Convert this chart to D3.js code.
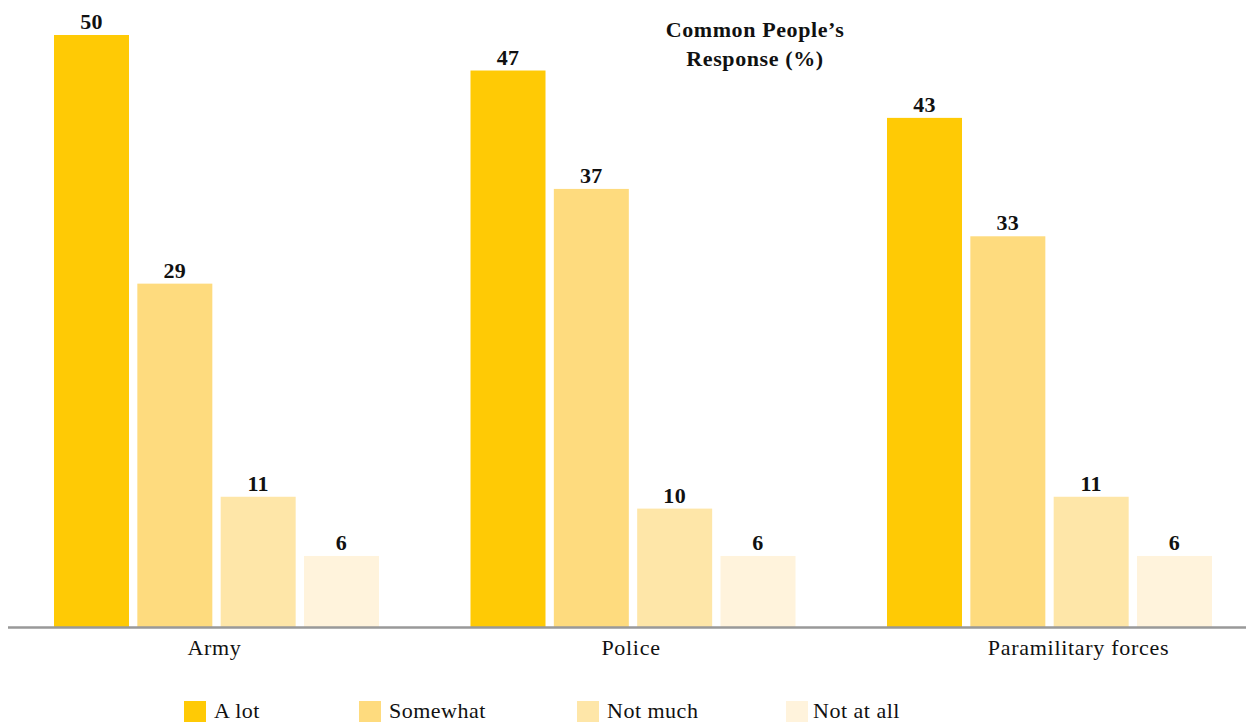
<!DOCTYPE html>
<html>
<head>
<meta charset="utf-8">
<script src="https://cdn.jsdelivr.net/npm/d3@7"></script>
<style>
  html, body { margin: 0; padding: 0; background: #fff; }
  svg { display: block; }
  text { font-family: "Liberation Serif", "Times New Roman", serif; fill: #111; }
</style>
</head>
<body>
<svg id="chart" width="1246" height="722"></svg>
<script>
// Survey categories and response levels
const categories = ["Army", "Police", "Paramilitary forces"];
const series = ["A lot", "Somewhat", "Not much", "Not at all"];

// Percentage of respondents per category, one array per response level
const aLot      = [50, 47, 43];
const somewhat  = [29, 37, 33];
const notMuch   = [11, 10, 11];
const notAtAll  = [6, 6, 6];

const titleLines = ["Common People\u2019s", "Response (%)"];
const colors = ["#FFCA05", "#FEDB7E", "#FEE6A8", "#FFF3DC"];

const values = [aLot, somewhat, notMuch, notAtAll];
const rows = categories.map((c, i) => ({
  category: c,
  items: series.map((s, j) => ({ series: s, value: values[j][i] }))
}));

const svg = d3.select("#chart");

// Scales
const x0 = d3.scaleBand().domain(categories).range([54, 1212]).paddingInner(0.2197).paddingOuter(0);
const x1 = d3.scaleBand().domain(series).range([0, x0.bandwidth()]).paddingInner(0.1).paddingOuter(0);
const y = d3.scaleLinear().domain([0, 50]).range([627, 35]);
const color = d3.scaleOrdinal().domain(series).range(colors);

// Bars
const groups = svg.append("g").selectAll("g")
  .data(rows).join("g")
  .attr("transform", d => `translate(${x0(d.category)},0)`);

groups.selectAll("rect")
  .data(d => d.items).join("rect")
  .attr("x", d => x1(d.series))
  .attr("y", d => y(d.value))
  .attr("width", x1.bandwidth())
  .attr("height", d => y(0) - y(d.value))
  .attr("fill", d => color(d.series));

// Value labels
groups.selectAll("text.value")
  .data(d => d.items).join("text")
  .attr("class", "value")
  .attr("x", d => x1(d.series) + x1.bandwidth() / 2)
  .attr("y", d => y(d.value) - 6)
  .attr("text-anchor", "middle")
  .style("font-weight", "bold")
  .style("font-size", "22px")
  .style("letter-spacing", "0.3px")
  .text(d => d.value);

// Baseline axis
const xAxis = d3.axisBottom(x0).tickSize(0).tickPadding(0);
const axisG = svg.append("g").attr("transform", `translate(0,${y(0)})`).call(xAxis);
axisG.select(".domain").remove();
svg.append("line")
  .attr("x1", 8).attr("x2", 1246)
  .attr("y1", y(0) + 0.5).attr("y2", y(0) + 0.5)
  .attr("stroke", "#999").attr("stroke-width", 2.5);

// Category labels (the long last label sits a little right of its group centre)
const labelShift = { "Paramilitary forces": 31 };
axisG.selectAll(".tick text")
  .attr("font-family", null).attr("font-size", null).attr("fill", null)
  .attr("dy", null)
  .attr("y", 28)
  .attr("dx", d => (labelShift[d] || 0) - 2)
  .style("font-size", "22px")
  .style("letter-spacing", "0.7px");

// Title
const title = svg.append("text")
  .attr("x", 755)
  .attr("y", 37)
  .attr("text-anchor", "middle")
  .style("font-weight", "bold")
  .style("font-size", "22px")
  .style("letter-spacing", "0.6px");
title.selectAll("tspan").data(titleLines).join("tspan")
  .attr("x", 755)
  .attr("dy", (d, i) => i === 0 ? 0 : 29)
  .text(d => d);

// Legend
const legendX = [184, 359, 577, 786];
const legend = svg.append("g").selectAll("g")
  .data(series).join("g")
  .attr("transform", (d, i) => `translate(${legendX[i]},701)`);
legend.append("rect")
  .attr("width", 22).attr("height", 22)
  .attr("fill", d => color(d));
legend.append("text")
  .attr("x", (d, i) => i === 3 ? 27 : 30).attr("y", 17)
  .style("font-size", "22px")
  .style("letter-spacing", "0.5px")
  .text(d => d);
</script>
</body>
</html>
